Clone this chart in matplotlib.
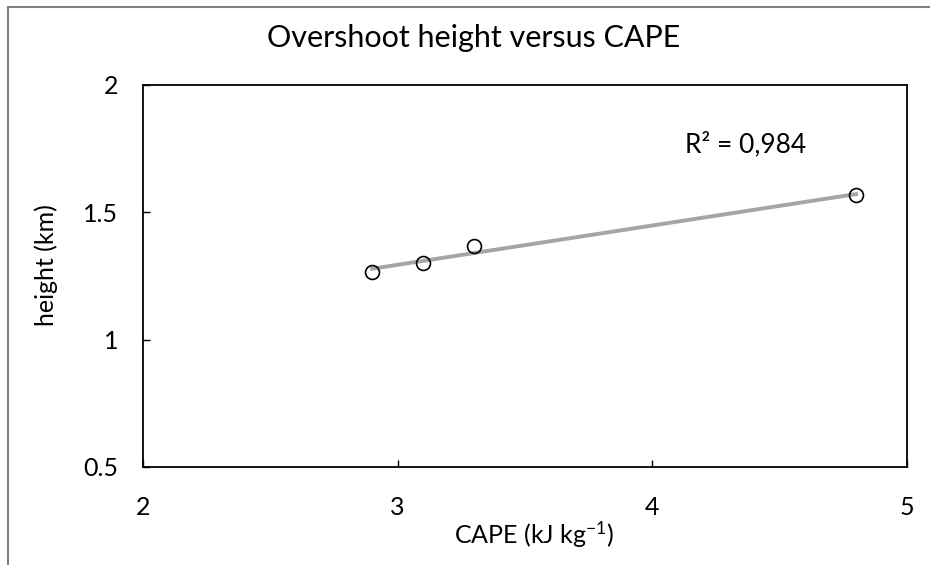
import numpy as np
import matplotlib.pyplot as plt
from matplotlib.patches import Rectangle

plt.rcParams['font.family'] = ['Lato', 'DejaVu Sans']
plt.rcParams['mathtext.default'] = 'regular'

# data
cape   = [2.9, 3.1, 3.3, 4.8]         # kJ kg-1
height = [1.264, 1.303, 1.366, 1.567]  # km
r2_label = 'R² = 0,984'

W, H = 930, 565
fig = plt.figure(figsize=(W/100, H/100), dpi=100)
ax = fig.add_axes([143/W, 1 - 467/H, (907-143)/W, (467-85)/H])

# outer chart frame (clipped at right / bottom like the original)
fig.patches.append(Rectangle((8/W, -0.1), 1.2, 1.1 - 7/H, transform=fig.transFigure,
                             fill=False, edgecolor='#808080', linewidth=1.5, zorder=0))

# linear trend line
p = np.polyfit(cape, height, 1)
xs = np.array([min(cape), max(cape)])
ax.plot(xs, np.polyval(p, xs), color='#a5a5a5', linewidth=2.8, zorder=2)
ax.plot(cape, height, 'o', markerfacecolor='none', markeredgecolor='black',
        markersize=10, markeredgewidth=1.2, zorder=3)

ax.text(4.128, 1.736, r2_label, fontsize=19, ha='left', va='baseline')

ax.set_xlim(2, 5)
ax.set_ylim(0.5, 2)
ax.set_xticks([2, 3, 4, 5])
ax.set_xticklabels(['2', '3', '4', '5'])
ax.set_yticks([0.5, 1, 1.5, 2])
ax.set_yticklabels(['0.5', '1', '1.5', '2'])
ax.tick_params(direction='in', length=5, width=1, labelsize=18)
ax.tick_params(axis='x', pad=21)
ax.tick_params(axis='y', pad=18)
for s in ax.spines.values():
    s.set_linewidth(1.3)

# titles placed in figure pixels like the original layout
fig.text(474/W, 1 - 47/H, 'Overshoot height versus CAPE', fontsize=22,
         ha='center', va='baseline')
fig.text(534/W, 1 - 544/H, 'CAPE (kJ kg$^{-1}$)', fontsize=18,
         ha='center', va='baseline')
fig.text(46/W, 1 - 265/H, 'height (km)', fontsize=18, rotation=90,
         ha='center', va='center')

fig.savefig('out.png', dpi=100)
